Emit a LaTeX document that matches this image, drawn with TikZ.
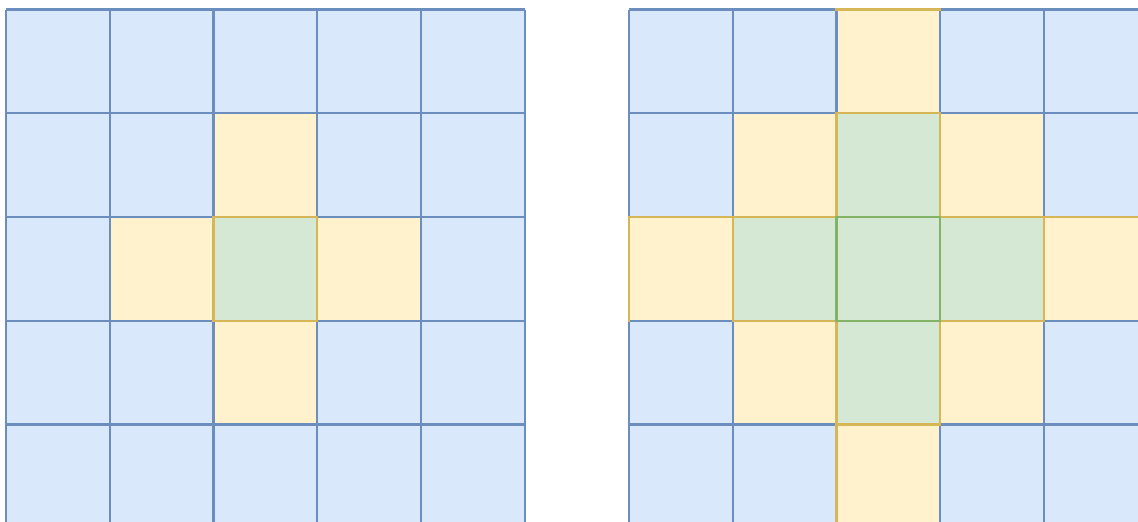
\documentclass[tikz,border=0pt]{standalone}
\definecolor{bfill}{HTML}{DAE8FC}
\definecolor{bline}{HTML}{6C8EBF}
\definecolor{yfill}{HTML}{FFF2CC}
\definecolor{yline}{HTML}{D6B656}
\definecolor{gfill}{HTML}{D5E8D4}
\definecolor{gline}{HTML}{82B366}
\tikzset{
  bedge/.style={draw=bline,line width=2.4pt},
  yedge/.style={draw=yline,line width=2.4pt,line cap=rect},
  gedge/.style={draw=gline,line width=2.4pt,line cap=rect}
}
\begin{document}
\begin{tikzpicture}[x=1pt,y=-1pt]
\def\cs{103.75}
\path[use as bounding box] (0,0) rectangle (1138,522);
\clip (0,0) rectangle (1138,522);
% ---------- left grid ----------
\begin{scope}[shift={(6,9.5)}]
  \fill[bfill] (0,0) rectangle (5*\cs,5*\cs);
  \foreach \i/\j in {2/1,1/2,3/2,2/3}
    \fill[yfill] (\i*\cs,\j*\cs) rectangle ++(\cs,\cs);
  \fill[gfill] (2*\cs,2*\cs) rectangle ++(\cs,\cs);
  \foreach \k in {0,...,5} {
    \draw[bedge] (\k*\cs,0) -- (\k*\cs,5*\cs);
    \draw[bedge] (0,\k*\cs) -- (5*\cs,\k*\cs);
  }
  \draw[yedge] (2*\cs,2*\cs) rectangle ++(\cs,\cs);
\end{scope}
% ---------- right grid ----------
\begin{scope}[shift={(629,9.5)}]
  \fill[bfill] (0,0) rectangle (5*\cs,5*\cs);
  \foreach \i/\j in {2/0,1/1,3/1,0/2,4/2,1/3,3/3,2/4}
    \fill[yfill] (\i*\cs,\j*\cs) rectangle ++(\cs,\cs);
  \foreach \i/\j in {2/1,1/2,2/2,3/2,2/3}
    \fill[gfill] (\i*\cs,\j*\cs) rectangle ++(\cs,\cs);
  \foreach \k in {0,...,5} {
    \draw[bedge] (\k*\cs,0) -- (\k*\cs,5*\cs);
    \draw[bedge] (0,\k*\cs) -- (5*\cs,\k*\cs);
  }
  % yellow horizontal segments (column i, line j)
  \foreach \i/\j in {2/0,2/1,0/2,1/2,3/2,4/2,1/3,3/3,2/4}
    \draw[yedge] (\i*\cs,\j*\cs) -- ++(\cs,0);
  % yellow vertical segments (line i, row j)
  \foreach \i/\j in {0/2,1/2,2/1,2/3,2/4,3/1,3/3,4/2}
    \draw[yedge] (\i*\cs,\j*\cs) -- ++(0,\cs);
  % green center
  \draw[gedge] (2*\cs,2*\cs) rectangle ++(\cs,\cs);
\end{scope}
\end{tikzpicture}
\end{document}
